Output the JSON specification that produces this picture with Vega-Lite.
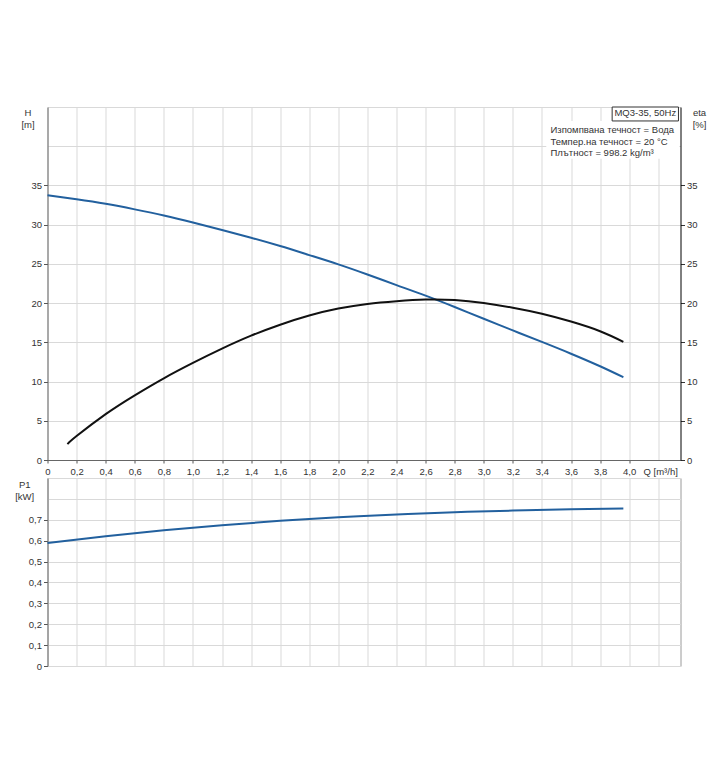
{
  "$schema": "https://vega.github.io/schema/vega-lite/v6.json",
  "background": "white",
  "padding": {"left": 13.5, "top": 102, "right": 0, "bottom": 0},
  "spacing": 18,
  "bounds": "flush",
  "config": {
    "font": "Liberation Sans",
    "view": {"stroke": null},
    "axis": {
      "labelFont": "Liberation Sans", "titleFont": "Liberation Sans",
      "labelFontSize": 9.5, "titleFontSize": 9.5, "labelColor": "#333", "titleColor": "#333",
      "titleFontWeight": "normal", "labelFlush": false, "labelOverlap": false,
      "gridColor": "#d9d9d9", "gridWidth": 1, "tickColor": "#555", "domainColor": "#6e6e6e"
    },
    "text": {"font": "Liberation Sans", "fontSize": 9.5, "color": "#333"}
  },
  "datasets": {
    "head": [
      {"Q": 0, "H": 33.75}, {"Q": 0.2, "H": 33.24}, {"Q": 0.4, "H": 32.66}, {"Q": 0.6, "H": 31.95},
      {"Q": 0.8, "H": 31.17}, {"Q": 1.0, "H": 30.28}, {"Q": 1.2, "H": 29.32}, {"Q": 1.4, "H": 28.33},
      {"Q": 1.6, "H": 27.27}, {"Q": 1.8, "H": 26.12}, {"Q": 2.0, "H": 24.94}, {"Q": 2.2, "H": 23.65},
      {"Q": 2.4, "H": 22.3}, {"Q": 2.6, "H": 20.95}, {"Q": 2.8, "H": 19.5}, {"Q": 3.0, "H": 18.0},
      {"Q": 3.2, "H": 16.52}, {"Q": 3.4, "H": 15.05}, {"Q": 3.6, "H": 13.55}, {"Q": 3.8, "H": 11.95},
      {"Q": 3.96, "H": 10.55}
    ],
    "eta": [
      {"Q": 0.137, "eta": 2.03}, {"Q": 0.2, "eta": 3.05}, {"Q": 0.4, "eta": 5.85}, {"Q": 0.6, "eta": 8.25},
      {"Q": 0.8, "eta": 10.42}, {"Q": 1.0, "eta": 12.38}, {"Q": 1.2, "eta": 14.2}, {"Q": 1.4, "eta": 15.85},
      {"Q": 1.6, "eta": 17.25}, {"Q": 1.8, "eta": 18.42}, {"Q": 2.0, "eta": 19.3}, {"Q": 2.2, "eta": 19.9},
      {"Q": 2.4, "eta": 20.25}, {"Q": 2.6, "eta": 20.46}, {"Q": 2.8, "eta": 20.4}, {"Q": 3.0, "eta": 20.02},
      {"Q": 3.2, "eta": 19.42}, {"Q": 3.4, "eta": 18.65}, {"Q": 3.6, "eta": 17.65}, {"Q": 3.8, "eta": 16.42},
      {"Q": 3.96, "eta": 15.07}
    ],
    "power": [
      {"Q": 0, "P": 0.589}, {"Q": 0.4, "P": 0.621}, {"Q": 0.8, "P": 0.65}, {"Q": 1.2, "P": 0.674},
      {"Q": 1.6, "P": 0.695}, {"Q": 2.0, "P": 0.712}, {"Q": 2.4, "P": 0.725}, {"Q": 2.8, "P": 0.736},
      {"Q": 3.2, "P": 0.744}, {"Q": 3.6, "P": 0.75}, {"Q": 3.96, "P": 0.754}
    ],
    "bg": [{"Q": 3.43, "Q2": 4.345, "H": 38.4, "H2": 43.22}],
    "box": [{"Q": 3.883, "Q2": 4.339, "H": 43.22, "H2": 45.0}],
    "boxlabel": [{"Q": 4.111, "H": 44.18, "label": "MQ3-35, 50Hz"}],
    "notes": [
      {"Q": 3.459, "H": 42.08, "label": "Изпомпвана течност = Вода"},
      {"Q": 3.459, "H": 40.59, "label": "Темпер.на течност = 20 °C"},
      {"Q": 3.459, "H": 39.11, "label": "Плътност = 998.2 kg/m³"}
    ]
  },
  "vconcat": [
    {
      "width": 633,
      "height": 353,
      "encoding": {
        "x": {
          "field": "Q", "type": "quantitative",
          "scale": {"domain": [0, 4.353], "nice": false, "zero": false},
          "axis": {
            "values": [0, 0.2, 0.4, 0.6, 0.8, 1.0, 1.2, 1.4, 1.6, 1.8, 2.0, 2.2, 2.4, 2.6, 2.8, 3.0, 3.2, 3.4, 3.6, 3.8, 4.0, 4.2],
            "grid": true,
            "labelExpr": "datum.value > 4.05 ? '' : (datum.value == 0 ? '0' : replace(format(datum.value, '.1f'), '.', ','))",
            "tickSize": 3,
            "tickOpacity": {"condition": {"test": "datum.value > 4.05", "value": 0}, "value": 1},
            "labelPadding": 3,
            "domainColor": "#666",
            "title": "Q [m³/h]",
            "titleX": 595.5, "titleY": 11, "titleAlign": "left", "titleBaseline": "middle"
          }
        }
      },
      "layer": [
        {
          "data": {"name": "bg"},
          "mark": {"type": "rect", "fill": "white", "stroke": null},
          "encoding": {
            "x2": {"field": "Q2"},
            "y": {"field": "H", "type": "quantitative", "scale": {"domain": [0, 45], "nice": false}, "axis": null},
            "y2": {"field": "H2"}
          }
        },
        {
          "data": {"name": "head"},
          "mark": {"type": "line", "color": "#22609e", "strokeWidth": 2, "interpolate": "natural"},
          "encoding": {
            "y": {
              "field": "H", "type": "quantitative",
              "scale": {"domain": [0, 45], "nice": false},
              "axis": {
                "orient": "left",
                "values": [0, 5, 10, 15, 20, 25, 30, 35, 40, 45],
                "grid": true,
                "labelExpr": "datum.value > 35 ? '' : datum.label",
                "tickSize": 4,
                "tickOpacity": {"condition": {"test": "datum.value > 35", "value": 0}, "value": 1},
                "labelPadding": 2,
                "domainColor": "#666",
                "title": ["H", "[m]"],
                "titleAngle": 0, "titleX": -20, "titleY": 0, "titleAlign": "center", "titleBaseline": "top", "titleLineHeight": 12
              }
            }
          }
        },
        {
          "data": {"name": "eta"},
          "mark": {"type": "line", "color": "#111111", "strokeWidth": 2, "interpolate": "natural"},
          "encoding": {
            "y": {
              "field": "eta", "type": "quantitative",
              "scale": {"domain": [0, 45], "nice": false},
              "axis": {
                "orient": "right",
                "values": [0, 5, 10, 15, 20, 25, 30, 35],
                "grid": false,
                "tickSize": 4,
                "labelPadding": 2,
                "domainColor": "#000",
                "tickColor": "#333",
                "title": ["eta", "[%]"],
                "titleAngle": 0, "titleX": 18.5, "titleY": 0, "titleAlign": "center", "titleBaseline": "top", "titleLineHeight": 12
              }
            }
          }
        },
        {
          "data": {"name": "box"},
          "mark": {"type": "rect", "fill": "white", "stroke": "#333", "strokeWidth": 1},
          "encoding": {
            "x2": {"field": "Q2"},
            "y": {"field": "H", "type": "quantitative", "scale": {"domain": [0, 45], "nice": false}, "axis": null},
            "y2": {"field": "H2"}
          }
        },
        {
          "data": {"name": "boxlabel"},
          "mark": {"type": "text", "align": "center", "baseline": "middle"},
          "encoding": {
            "y": {"field": "H", "type": "quantitative", "scale": {"domain": [0, 45], "nice": false}, "axis": null},
            "text": {"field": "label"}
          }
        },
        {
          "data": {"name": "notes"},
          "mark": {"type": "text", "align": "left", "baseline": "middle"},
          "encoding": {
            "y": {"field": "H", "type": "quantitative", "scale": {"domain": [0, 45], "nice": false}, "axis": null},
            "text": {"field": "label"}
          }
        }
      ],
      "resolve": {"axis": {"y": "independent"}}
    },
    {
      "width": 633,
      "height": 188,
      "view": {"stroke": "#9a9a9a"},
      "data": {"name": "power"},
      "mark": {"type": "line", "color": "#22609e", "strokeWidth": 2, "interpolate": "natural"},
      "encoding": {
        "x": {
          "field": "Q", "type": "quantitative",
          "scale": {"domain": [0, 4.353], "nice": false, "zero": false},
          "axis": {
            "values": [0, 0.2, 0.4, 0.6, 0.8, 1.0, 1.2, 1.4, 1.6, 1.8, 2.0, 2.2, 2.4, 2.6, 2.8, 3.0, 3.2, 3.4, 3.6, 3.8, 4.0, 4.2],
            "grid": true, "labels": false, "ticks": false, "domain": false, "title": null
          }
        },
        "y": {
          "field": "P", "type": "quantitative",
          "scale": {"domain": [0, 0.9], "nice": false},
          "axis": {
            "values": [0, 0.1, 0.2, 0.3, 0.4, 0.5, 0.6, 0.7, 0.8, 0.9],
            "grid": true,
            "labelExpr": "datum.value > 0.75 ? '' : (datum.value == 0 ? '0' : replace(format(datum.value, '.1f'), '.', ','))",
            "tickSize": 4,
            "tickOpacity": {"condition": {"test": "datum.value > 0.75", "value": 0}, "value": 1},
            "labelPadding": 2,
            "domainColor": "#777",
            "title": ["P1", "[kW]"],
            "titleAngle": 0, "titleX": -23.3, "titleY": 1, "titleAlign": "center", "titleBaseline": "top", "titleLineHeight": 12
          }
        }
      }
    }
  ]
}
